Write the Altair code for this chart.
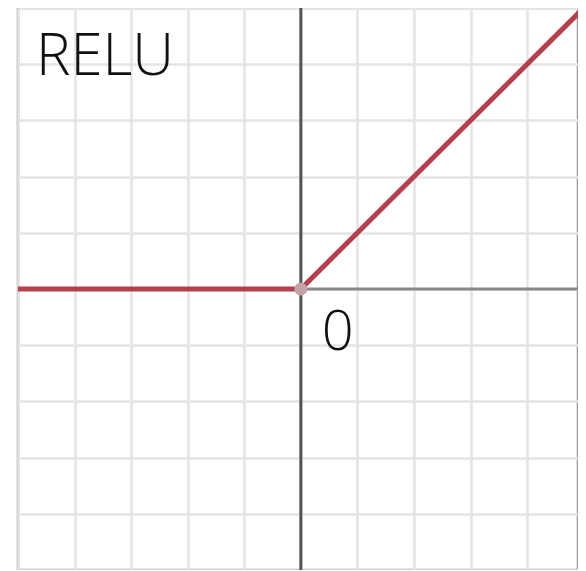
import altair as alt
import pandas as pd

# ReLU curve points
relu_x = [-5, 0, 5]
relu_y = [0, 0, 5]

grid_vals = [-5, -4, -3, -2, -1, 0, 1, 2, 3, 4, 5]

title_text = ["RELU"]
title_x = [-4.68]
title_y = [3.81]

zero_text = ["0"]
zero_x = [0.37]
zero_y = [-1.09]

relu_df = pd.DataFrame({"x": relu_x, "y": relu_y})
origin_df = pd.DataFrame({"x": [0], "y": [0]})
title_df = pd.DataFrame({"t": title_text, "x": title_x, "y": title_y})
zero_df = pd.DataFrame({"t": zero_text, "x": zero_x, "y": zero_y})

xs = alt.Scale(domain=[-5, 4.9], nice=False, zero=False)
ys = alt.Scale(domain=[-5, 5], nice=False, zero=False)

xax = alt.Axis(values=grid_vals, grid=True, labels=False, ticks=False, domain=False,
               title=None, gridColor="#e4e4e4", gridWidth=2.5)
yax = alt.Axis(values=grid_vals, grid=True, labels=False, ticks=False, domain=False,
               title=None, gridColor="#e4e4e4", gridWidth=2.5)

base_grid = alt.Chart(origin_df).mark_point(opacity=0).encode(
    x=alt.X("x:Q", scale=xs, axis=xax),
    y=alt.Y("y:Q", scale=ys, axis=yax),
)

vaxis = alt.Chart(origin_df).mark_rule(color="#555555", strokeWidth=3).encode(
    x=alt.X("x:Q", scale=xs)
)
haxis = alt.Chart(origin_df).mark_rule(color="#888888", strokeWidth=3).encode(
    y=alt.Y("y:Q", scale=ys)
)

line = alt.Chart(relu_df).mark_line(color="#b3404c", strokeWidth=5, clip=True).encode(
    x=alt.X("x:Q", scale=xs),
    y=alt.Y("y:Q", scale=ys),
)

dot = alt.Chart(origin_df).mark_circle(color="#c4a2a6", size=170, opacity=1).encode(
    x=alt.X("x:Q", scale=xs),
    y=alt.Y("y:Q", scale=ys),
)

title = alt.Chart(title_df).mark_text(
    font="Open Sans", fontSize=58, fontWeight=300, align="left", baseline="alphabetic",
    color="#111111"
).encode(x=alt.X("x:Q", scale=xs), y=alt.Y("y:Q", scale=ys), text="t:N")

zero = alt.Chart(zero_df).mark_text(
    font="Open Sans", fontSize=56, fontWeight=300, align="left", baseline="alphabetic",
    color="#111111"
).encode(x=alt.X("x:Q", scale=xs), y=alt.Y("y:Q", scale=ys), text="t:N")

chart = alt.layer(base_grid, haxis, vaxis, line, dot, title, zero).properties(
    width=560,
    height=562,
    autosize="none",
    padding={"left": 10, "top": 0, "right": 0, "bottom": 0},
).configure_view(stroke="#9a9a9a", strokeWidth=2.5)

chart.save("out.html", embed_options={"renderer": "svg", "actions": False})
